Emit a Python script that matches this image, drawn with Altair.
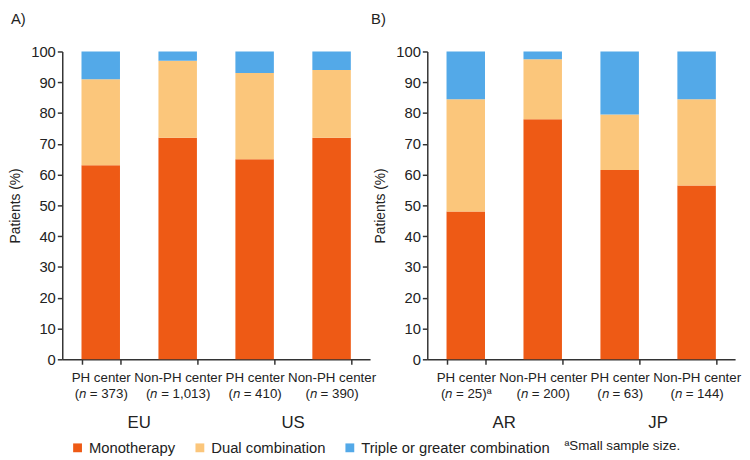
import altair as alt
import pandas as pd

# ---- data ----
panels = ["A", "A", "A", "A", "B", "B", "B", "B"]
regions = ["EU", "EU", "US", "US", "AR", "AR", "JP", "JP"]
centers = ["PH center", "Non-PH center"] * 4
n_text = ["373", "1,013", "410", "390", "25", "200", "63", "144"]
n_mark = ["", "", "", "", "ª", "", "", ""]
monotherapy = [63, 72, 65, 72, 48, 78, 61.5, 56.5]
dual = [28, 25, 28, 22, 36.5, 19.5, 18, 28]
triple = [9, 3, 7, 6, 15.5, 2.5, 20.5, 15.5]
series = ["Monotherapy", "Dual combination", "Triple or greater combination"]
colors = ["#EE5A15", "#FBC67B", "#53A9E8"]
panel_titles = {"A": "A)", "B": "B)"}
footnote = "ªSmall sample size."

labels = [f"{c}\n(\U0001D45B = {n}){m}" for c, n, m in zip(centers, n_text, n_mark)]

rows = []
for i in range(len(labels)):
    for k, (s, vals) in enumerate(zip(series, [monotherapy, dual, triple])):
        rows.append({"panel": panels[i], "region": regions[i], "label": labels[i],
                     "series": s, "value": vals[i], "order": k})
df = pd.DataFrame(rows)

FONT = "Liberation Sans"
W, H = 312, 312


def panel(p, title_dx):
    d = df[df.panel == p]
    order = [l for l, pp in zip(labels, panels) if pp == p]
    xenc = alt.X("label:N", sort=order,
                 scale=alt.Scale(paddingInner=0.5, paddingOuter=0.25),
                 axis=alt.Axis(title=None, tickBand="extent", labelAngle=0,
                               labelExpr="split(datum.label, '\\n')",
                               labelFontSize=13.5, labelLineHeight=16,
                               labelPadding=7, tickSize=5, labelOverlap=False,
                               labelColor="#222"))
    bars = alt.Chart(d).mark_bar().encode(
        x=xenc,
        y=alt.Y("value:Q", stack="zero", scale=alt.Scale(domain=[0, 100]),
                axis=alt.Axis(title="Patients (%)", values=list(range(0, 101, 10)),
                              grid=False, tickSize=5, labelFontSize=15,
                              titleFontSize=14, titleFontWeight="normal",
                              titlePadding=8, labelColor="#222", titleColor="#222")),
        color=alt.Color("series:N", scale=alt.Scale(domain=series, range=colors),
                        legend=alt.Legend(title=None, orient="none", direction="horizontal",
                                          legendX=8, legendY=394, symbolType="square",
                                          symbolSize=80, labelFontSize=15, columnPadding=17,
                                          labelOffset=4, symbolStrokeWidth=0,
                                          labelLimit=400, labelColor="#222")),
        order=alt.Order("order:Q"),
    )
    gdf = pd.DataFrame({"region": [r for r, pp in zip(regions, panels) if pp == p][::2],
                        "label": order[::2]})
    groups = alt.Chart(gdf).mark_text(dx=W / 8, fontSize=17, baseline="middle",
                                      color="#222").encode(
        x=alt.X("label:N", sort=order), y=alt.value(H + 65), text="region:N")
    tdf = pd.DataFrame({"t": [panel_titles[p]]})
    ptitle = alt.Chart(tdf).mark_text(align="left", baseline="middle", fontSize=15,
                                      color="#222").encode(
        x=alt.value(title_dx), y=alt.value(-33), text="t:N")
    layers = [bars, groups, ptitle]
    if p == "B":
        fdf = pd.DataFrame({"t": [footnote]})
        layers.append(alt.Chart(fdf).mark_text(align="left", baseline="middle", fontSize=13.5,
                                               color="#222").encode(
            x=alt.value(139), y=alt.value(H + 88), text="t:N"))
    return alt.layer(*layers).properties(width=W, height=H)


chart = alt.hconcat(panel("A", -52), panel("B", -57), spacing=58, bounds="flush").properties(
    padding=0,
).configure(font=FONT).configure_view(stroke="transparent").configure_axis(
    domainColor="#333", tickColor="#333", domainWidth=1.5, tickWidth=1.5
)

chart.save("out.html", embed_options={"renderer": "svg", "actions": False})
